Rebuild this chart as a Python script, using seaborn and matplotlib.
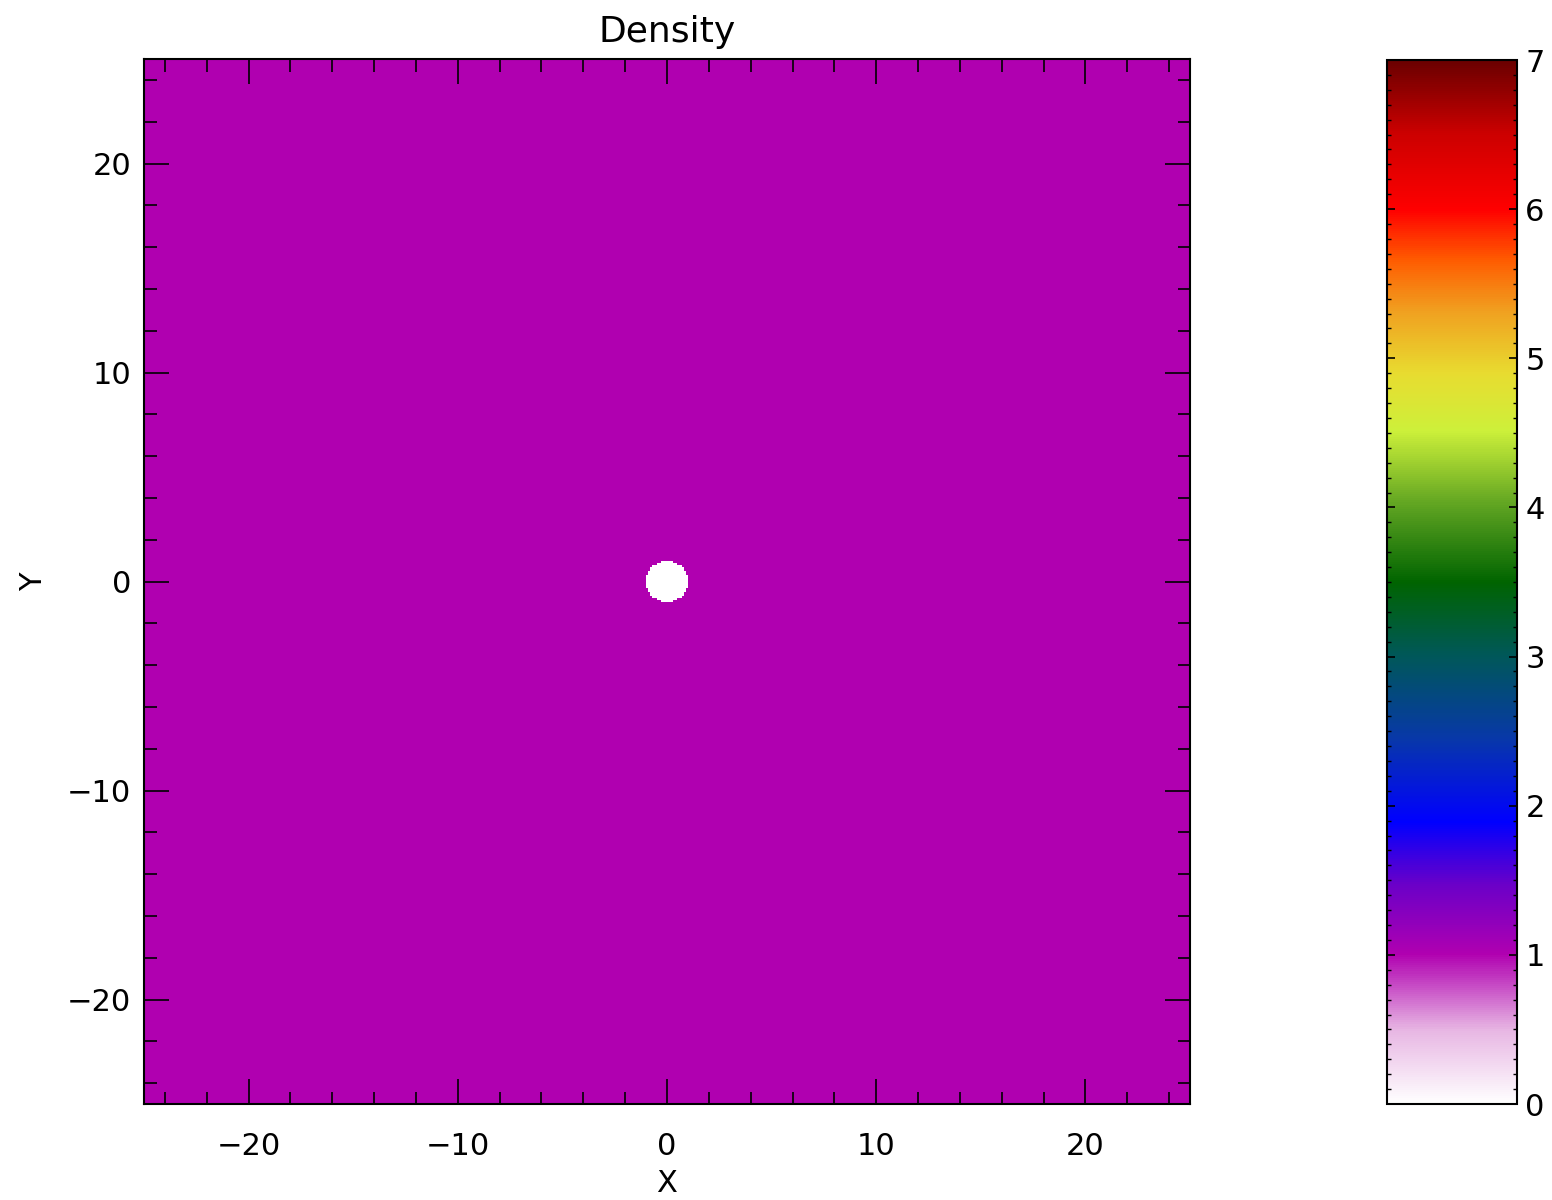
import numpy as np
import pandas as pd
import matplotlib.pyplot as plt
import matplotlib.ticker as ticker
from matplotlib.colors import LinearSegmentedColormap
import seaborn as sns

#-------------------------------------------------------------------------------------
# Data: uniform density field with an empty circular obstacle at the origin
#-------------------------------------------------------------------------------------
domain = (-25.0, 25.0)
n_cells = 500
ambient_density = 1.0
obstacle_density = 0.0
obstacle_center = (0.0, 0.0)
obstacle_radius = 1.0

major_ticks = [-20, -10, 0, 10, 20]
cbar_ticks = [0, 1, 2, 3, 4, 5, 6, 7]

centers = np.linspace(domain[0], domain[1], n_cells, endpoint=False) + (domain[1] - domain[0]) / n_cells / 2
xx, yy = np.meshgrid(centers, centers)
inside = (xx - obstacle_center[0])**2 + (yy - obstacle_center[1])**2 < obstacle_radius**2
density = np.where(inside, obstacle_density, ambient_density)
df_density = pd.DataFrame(density, index=centers, columns=centers)

# IDL-like "white to dark red" rainbow
cmap_stops = [(0.0, "#ffffff"), (0.07, "#e7b6e3"), (0.143, "#b000b0"),
              (0.21, "#6a00c8"), (0.27, "#0000ff"), (0.35, "#0838a8"),
              (0.43, "#005858"), (0.50, "#006400"), (0.57, "#5aa020"),
              (0.645, "#cdf03a"), (0.70, "#e8dc30"), (0.76, "#f0a020"),
              (0.81, "#ff5a00"), (0.857, "#ff0000"), (0.93, "#cc0000"),
              (1.0, "#6a0000")]
cmap = LinearSegmentedColormap.from_list("idl_white_rainbow", cmap_stops, N=512)

#-------------------------------------------------------------------------------------
# Figure
#-------------------------------------------------------------------------------------
sns.set_style("ticks")
plt.rcParams['font.family'] = ['DejaVu Sans']
plt.rcParams['text.color'] = 'black'
plt.rcParams['axes.labelcolor'] = 'black'
plt.rcParams['xtick.color'] = 'black'
plt.rcParams['ytick.color'] = 'black'

fig = plt.figure(figsize=(15.52, 12), dpi=100)
ax = fig.add_axes([144/1552, 96/1200, 1046/1552, 1045/1200])
cax = fig.add_axes([1387/1552, 96/1200, 130/1552, 1044/1200])

sns.heatmap(df_density, ax=ax, cbar_ax=cax, cmap=cmap, vmin=0, vmax=7,
            xticklabels=False, yticklabels=False, rasterized=True,
            cbar_kws={'ticks': cbar_ticks})

# rows go bottom -> top
ax.set_ylim(0, n_cells)
ax.set_xlim(0, n_cells)
ax.set_axisbelow(False)
for s in ax.spines.values():
    s.set_visible(True)
    s.set_color('black')
    s.set_linewidth(1.5)

to_cell = lambda v: (v - domain[0]) / (domain[1] - domain[0]) * n_cells
minor_vals = [v for v in range(-24, 25, 2) if v not in major_ticks]
for axis in (ax.xaxis, ax.yaxis):
    axis.set_major_locator(ticker.FixedLocator([to_cell(v) for v in major_ticks]))
    axis.set_major_formatter(ticker.FixedFormatter([str(v).replace('-', '\u2212') for v in major_ticks]))
    axis.set_minor_locator(ticker.FixedLocator([to_cell(v) for v in minor_vals]))

ax.tick_params(which='both', direction='in', top=True, right=True, bottom=True, left=True,
               color='black', width=1.2, labelsize=22, labelrotation=0, labelcolor='black')
ax.tick_params(which='major', length=18)
ax.tick_params(which='minor', length=9)
ax.tick_params(axis='x', pad=20)
ax.tick_params(axis='y', pad=9)

ax.set_title("Density", fontsize=26, pad=12, color='black')
ax.set_xlabel("X", fontsize=22, labelpad=6)
ax.set_ylabel("Y", fontsize=22, labelpad=14)

# Colorbar
cbar = ax.collections[0].colorbar
cbar.ax.set_axisbelow(False)
cbar.outline.set_edgecolor('black')
cbar.outline.set_linewidth(1.5)
cbar.ax.yaxis.set_ticks_position('both')
cbar.ax.yaxis.set_minor_locator(ticker.MultipleLocator(0.1))
cbar.ax.tick_params(which='both', direction='in', left=True, right=True,
                    labelleft=False, labelright=True, labelsize=22, color='black',
                    labelcolor='black', pad=6)
cbar.ax.tick_params(which='major', length=6, width=1.2)
cbar.ax.tick_params(which='minor', length=3, width=1)

plt.savefig("out.png", dpi=100)
